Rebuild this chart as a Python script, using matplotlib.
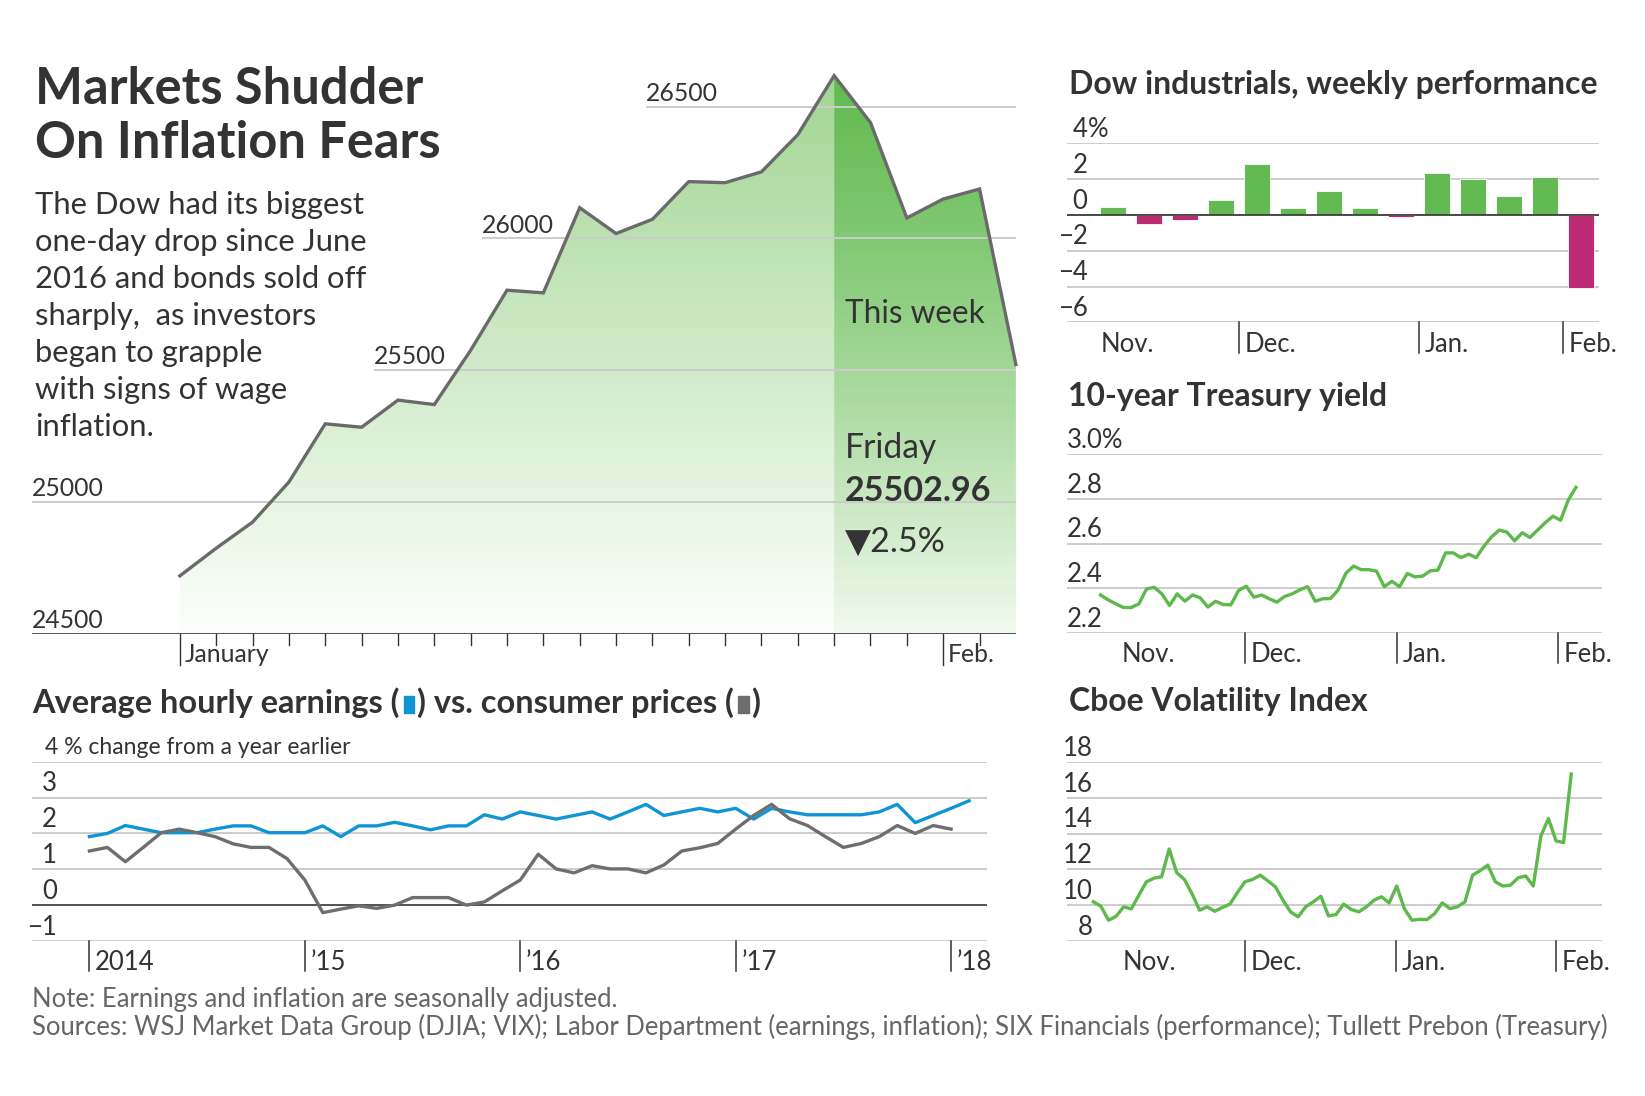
import numpy as np
import matplotlib
matplotlib.use("Agg")
import matplotlib.pyplot as plt
import matplotlib.transforms as mtransforms
from matplotlib import font_manager
from matplotlib.patches import Polygon, Rectangle

# ---------------- data ----------------
# Dow daily close, Dec 29 2017 .. Feb 2 2018
dow_close = [24719, 24824, 24923, 25075, 25296, 25283, 25386, 25369, 25575,
             25803, 25793, 26116, 26018, 26072, 26215, 26211, 26252, 26393,
             26617, 26439, 26077, 26149, 26187, 25521]
dow_levels = [24500, 25000, 25500, 26000, 26500]
dow_month_labels = ["January", "Feb."]

# weekly % change, Dow industrials
weekly_perf = [0.45, -0.50, -0.28, 0.84, 2.86, 0.39, 1.33, 0.41, -0.13,
               2.34, 2.02, 1.05, 2.09, -4.10]
perf_levels = [4, 2, 0, -2, -4, -6]
perf_labels = ["4", "2", "0", "\u22122", "\u22124", "\u22126"]

# 10-year Treasury yield, daily
treasury = [2.370, 2.348, 2.330, 2.314, 2.314, 2.330, 2.397, 2.404, 2.375, 2.323,
            2.375, 2.342, 2.370, 2.357, 2.316, 2.342, 2.327, 2.326, 2.390, 2.409,
            2.360, 2.370, 2.353, 2.338, 2.363, 2.375, 2.393, 2.407, 2.342, 2.353,
            2.354, 2.393, 2.467, 2.499, 2.483, 2.483, 2.476, 2.407, 2.431, 2.407,
            2.466, 2.451, 2.454, 2.478, 2.481, 2.558, 2.558, 2.537, 2.552, 2.537,
            2.588, 2.630, 2.660, 2.651, 2.612, 2.648, 2.627, 2.660, 2.693, 2.722,
            2.704, 2.794, 2.851]
treasury_levels = [3.0, 2.8, 2.6, 2.4, 2.2]
treasury_labels = ["3.0%", "2.8", "2.6", "2.4", "2.2"]

# Cboe volatility index, daily
vix = [10.19, 9.94, 9.16, 9.38, 9.91, 9.79, 10.56, 11.31, 11.51, 11.59,
       13.14, 11.81, 11.44, 10.65, 9.72, 9.91, 9.66, 9.87, 10.06, 10.71,
       11.31, 11.44, 11.68, 11.36, 11.03, 10.28, 9.63, 9.35, 9.91, 10.19,
       10.50, 9.40, 9.48, 10.06, 9.76, 9.63, 9.91, 10.28, 10.47, 10.13,
       11.07, 9.81, 9.16, 9.21, 9.20, 9.53, 10.13, 9.81, 9.91, 10.19,
       11.68, 11.93, 12.24, 11.31, 11.07, 11.12, 11.53, 11.63, 11.07, 13.87,
       14.84, 13.59, 13.50, 17.33]
vix_levels = [18, 16, 14, 12, 10, 8]

# monthly % change from a year earlier
earnings = [1.91, 2.00, 2.22, 2.12, 2.02, 2.02, 2.02, 2.12, 2.21, 2.21,
            2.02, 2.02, 2.02, 2.21, 1.91, 2.21, 2.21, 2.31, 2.21, 2.10,
            2.21, 2.21, 2.52, 2.40, 2.60, 2.50, 2.40, 2.50, 2.60, 2.40,
            2.60, 2.81, 2.50, 2.60, 2.70, 2.60, 2.70, 2.40, 2.70, 2.60,
            2.52, 2.52, 2.52, 2.52, 2.60, 2.81, 2.30, 2.50, 2.70, 2.91]
cpi = [1.51, 1.61, 1.21, 1.61, 2.02, 2.12, 2.02, 1.91, 1.71, 1.61,
       1.61, 1.30, 0.70, -0.21, -0.11, -0.02, -0.09, 0.00, 0.21, 0.21,
       0.21, 0.00, 0.09, 0.40, 0.70, 1.42, 1.01, 0.90, 1.10, 1.01,
       1.01, 0.90, 1.12, 1.51, 1.60, 1.72, 2.12, 2.50, 2.81, 2.41,
       2.22, 1.91, 1.61, 1.72, 1.91, 2.22, 2.00, 2.22, 2.12]
earn_levels = [3, 2, 1, 0, -1]
earn_labels = ["3", "2", "1", "0", "\u22121"]
year_labels = ["2014", "\u201915", "\u201916", "\u201917", "\u201918"]
month_labels = ["Nov.", "Dec.", "Jan.", "Feb."]

# ---------------- style / layout ----------------
W, H = 1645, 1096
DARK = "#333333"
GRID = "#cccccc"
GREEN = "#5db94b"
BAR_GREEN = "#63ba52"
BAR_RED = "#bc2a74"
BLUE = "#0f94d6"
GRAY = "#6e6e6e"
NOTE = "#666666"

# where the month boundaries fall on each index axis
dow_month_pos = [0, 21]
dow_week_start = 18
dow_grid_start = [None, None, 5.35, 8.30, 12.83]
perf_month_pos = [-0.33, 3.5, 8.5, 12.5]
treasury_month_pos = [2.8, 18.8, 38.7, 59.7]
vix_month_pos = [3.8, 20.0, 39.9, 61.0]
year_pos = [0, 12, 24, 36, 48]


def pick_font(names):
    for n in names:
        try:
            font_manager.findfont(font_manager.FontProperties(family=n),
                                  fallback_to_default=False)
            return n
        except ValueError:
            continue
    return "DejaVu Sans"


FONT = [pick_font(["Lato", "Liberation Sans", "Noto Sans"]), "DejaVu Sans"]
plt.rcParams["font.family"] = FONT

fig = plt.figure(figsize=(W / 100, H / 100), dpi=100)
fig.patch.set_facecolor("white")
renderer = fig.canvas.get_renderer()


def fx(px):
    return px / W


def fy(py):
    return 1 - py / H


def fit_size(s, target_px, weight="normal"):
    t = fig.text(0, 0, s, fontsize=20, fontweight=weight)
    w = t.get_window_extent(renderer).width
    t.remove()
    return 20 * target_px / w


TITLE_SIZE = fit_size("On Inflation Fears", 406, "bold")
BODY_SIZE = fit_size("one-day drop since June", 333)
PANEL_SIZE = fit_size("Dow industrials, weekly performance", 529, "bold")
EARN_SIZE = fit_size("Average hourly earnings () vs. consumer prices ()", 729 - 36, "bold")
NOTE_TEXT = ("Sources: WSJ Market Data Group (DJIA; VIX); Labor Department (earnings, inflation); "
             "SIX Financials (performance); Tullett Prebon (Treasury)")
NOTE_SIZE = fit_size(NOTE_TEXT, 1581)
MAIN_TICK = 17.8
SMALL_TICK = 18.5


def clean(ax):
    for s in ax.spines.values():
        s.set_visible(False)
    ax.set_xticks([])
    ax.set_yticks([])
    ax.patch.set_alpha(0)


def hgrid(ax, levels, dark=()):
    for v in levels:
        col, lw = (DARK, 1.2) if v in dark else (GRID, 1.4)
        ax.axhline(v, color=col, lw=lw, zorder=2)


def ylabels(ax, levels, labels, xfrac, ha, size=SMALL_TICK):
    tr = mtransforms.blended_transform_factory(ax.transAxes, ax.transData)
    for v, lab in zip(levels, labels):
        ax.annotate(lab, xy=(xfrac, v), xycoords=tr, xytext=(0, 4.5),
                    textcoords="offset points", ha=ha, va="baseline",
                    fontsize=size, color=DARK)


def xlabels(ax, positions, labels, tick_first=False, tick_len=0.17,
            size=SMALL_TICK, dy=-21.2):
    tr = mtransforms.blended_transform_factory(ax.transData, ax.transAxes)
    for i, (p, lab) in enumerate(zip(positions, labels)):
        off = 0
        if i > 0 or tick_first:
            ax.plot([p, p], [0, -tick_len], transform=tr, color=DARK, lw=1.1,
                    clip_on=False)
            off = 4
        ax.annotate(lab, xy=(p, 0), xycoords=tr, xytext=(off, dy),
                    textcoords="offset points", ha="left", va="baseline",
                    fontsize=size, color=DARK)


def gradient_fill(ax, xs, ys, top, bottom, y0, y1, power=1.0):
    t = np.linspace(0, 1, 256) ** power
    img = np.zeros((256, 1, 3))
    for k in range(3):
        img[:, 0, k] = top[k] + (bottom[k] - top[k]) * t
    im = ax.imshow(img, extent=(xs[0], xs[-1], y0, y1), aspect="auto",
                   origin="upper", zorder=1, interpolation="bilinear")
    verts = [(xs[0], y0)] + list(zip(xs, ys)) + [(xs[-1], y0)]
    poly = Polygon(verts, closed=True, facecolor="none", edgecolor="none")
    ax.add_patch(poly)
    im.set_clip_path(poly)


# ---------------- main Dow chart ----------------
ax = fig.add_axes([fx(31.9), fy(633.6), (1015.9 - 31.9) / W, (633.6 - 53.8) / H])
clean(ax)
xd = np.arange(len(dow_close))
yd = np.array(dow_close, dtype=float)
ws = dow_week_start
gradient_fill(ax, xd[:ws + 1], yd[:ws + 1], (0.62, 0.83, 0.56), (0.99, 1.0, 0.99),
              24500, 26700)
gradient_fill(ax, xd[ws:], yd[ws:], (0.38, 0.73, 0.31), (0.95, 0.98, 0.94),
              24500, 26700, power=1.3)
xmin = -4.07
for lev, st in zip(dow_levels, dow_grid_start):
    if lev == dow_levels[0]:
        continue
    ax.hlines(lev, xmin if st is None else st, xd[-1], color=GRID, lw=1.4, zorder=2)
ax.hlines(dow_levels[0], xmin, xd[-1], color=DARK, lw=1.2, zorder=4)
ax.plot(xd, yd, color="#6a6a6a", lw=2.4, zorder=3, clip_on=False,
        solid_joinstyle="miter")
ax.set_xlim(xmin, xd[-1])
ax.set_ylim(24500, 26700)
for lev, st in zip(dow_levels, dow_grid_start):
    ax.annotate(f"{lev}", xy=(xmin if st is None else st, lev), xytext=(0, 4),
                textcoords="offset points", ha="left", va="baseline",
                fontsize=MAIN_TICK, color=DARK)
tr = mtransforms.blended_transform_factory(ax.transData, ax.transAxes)
for i in xd[:-1]:
    ln = 0.054 if i in dow_month_pos else 0.02
    ax.plot([i, i], [0, -ln], transform=tr, color=DARK, lw=1.0, clip_on=False)
for p, lab in zip(dow_month_pos, dow_month_labels):
    ax.annotate(lab, xy=(p, 0), xycoords=tr, xytext=(3.6, -20.5),
                textcoords="offset points", ha="left", va="baseline",
                fontsize=MAIN_TICK, color=DARK)

# headline and text block
fig.text(fx(35), fy(103.6), "Markets Shudder", fontsize=TITLE_SIZE,
         fontweight="bold", color=DARK, va="baseline")
fig.text(fx(35), fy(157.9), "On Inflation Fears", fontsize=TITLE_SIZE,
         fontweight="bold", color=DARK, va="baseline")
body = ["The Dow had its biggest", "one-day drop since June",
        "2016 and bonds sold off", "sharply,  as investors",
        "began to grapple", "with signs of wage", "inflation."]
for k, line in enumerate(body):
    fig.text(fx(35), fy(213.8 + 37.1 * k), line, fontsize=BODY_SIZE,
             color=DARK, va="baseline")

fig.text(fx(845), fy(322.5), "This week", fontsize=fit_size("This week", 140),
         color=DARK, va="baseline")
fig.text(fx(845), fy(457.6), "Friday", fontsize=fit_size("Friday", 92.5),
         color=DARK, va="baseline")
fig.text(fx(845), fy(500.8), "25502.96",
         fontsize=fit_size("25502.96", 146.7, "bold"), fontweight="bold",
         color=DARK, va="baseline")
fig.text(fx(845), fy(552.1), "\u25BC2.5%", fontsize=fit_size("\u25BC2.5%", 100.8),
         color=DARK, va="baseline")

# ---------------- weekly performance bars ----------------
ax = fig.add_axes([fx(1066.8), fy(322.3), 531.9 / W, 179 / H])
clean(ax)
hgrid(ax, perf_levels)
xb = np.arange(len(weekly_perf))
cols = [BAR_GREEN if v >= 0 else BAR_RED for v in weekly_perf]
ax.bar(xb, weekly_perf, width=0.73, color=cols, edgecolor="white", lw=0.6, zorder=3)
ax.axhline(0, color=DARK, lw=1.2, zorder=4)
ax.set_xlim(-1.275, 13.5)
ax.set_ylim(-6, 4)
ylabels(ax, perf_levels, perf_labels, 0.039, "right")
trb = mtransforms.blended_transform_factory(ax.transAxes, ax.transData)
ax.annotate("%", xy=(0.039, 4), xycoords=trb, xytext=(0, 4.5),
            textcoords="offset points", ha="left", va="baseline",
            fontsize=SMALL_TICK, color=DARK)
xlabels(ax, perf_month_pos, month_labels)
fig.text(fx(1068.6), fy(94.3), "Dow industrials, weekly performance",
         fontsize=PANEL_SIZE, fontweight="bold", color=DARK, va="baseline")

# ---------------- 10-year Treasury ----------------
ax = fig.add_axes([fx(1066.8), fy(633), 535.2 / W, 179 / H])
clean(ax)
hgrid(ax, treasury_levels)
ax.plot(np.arange(len(treasury)), treasury, color=GREEN, lw=2.4, zorder=3,
        clip_on=False)
ax.set_xlim(-4.4, 65.4)
ax.set_ylim(2.2, 3.0)
ylabels(ax, treasury_levels, treasury_labels, 0.0, "left")
xlabels(ax, treasury_month_pos, month_labels)
fig.text(fx(1067.9), fy(405.7), "10-year Treasury yield",
         fontsize=PANEL_SIZE, fontweight="bold", color=DARK, va="baseline")

# ---------------- VIX ----------------
ax = fig.add_axes([fx(1066.8), fy(941), 535.5 / W, 179 / H])
clean(ax)
hgrid(ax, vix_levels)
ax.plot(np.arange(len(vix)), vix, color=GREEN, lw=2.4, zorder=3, clip_on=False)
ax.set_xlim(-3.5, 67.1)
ax.set_ylim(8, 18)
ylabels(ax, vix_levels, [str(v) for v in vix_levels], 0.049, "right")
xlabels(ax, vix_month_pos, month_labels)
fig.text(fx(1068.6), fy(710.7), "Cboe Volatility Index",
         fontsize=PANEL_SIZE, fontweight="bold", color=DARK, va="baseline")

# ---------------- earnings vs prices ----------------
ax = fig.add_axes([fx(32), fy(941), 955 / W, 179.3 / H])
clean(ax)
hgrid(ax, [4] + earn_levels, dark=(0,))
ax.plot(np.arange(len(earnings)), earnings, color=BLUE, lw=2.4, zorder=3)
ax.plot(np.arange(len(cpi)), cpi, color=GRAY, lw=2.4, zorder=4)
ax.set_xlim(-3.2, 50.0)
ax.set_ylim(-1, 4)
ylabels(ax, earn_levels, earn_labels, 0.026, "right")
sub = "4 % change from a year earlier"
fig.text(fx(44.6), fy(754), sub, fontsize=fit_size(sub, 305), color=DARK,
         va="baseline")
xlabels(ax, year_pos, year_labels, tick_first=True)

# title with coloured keys
x = 32.2
ybase = fy(713.3)
pieces = ["Average hourly earnings (", BLUE, ") vs. consumer prices (", GRAY, ")"]
for piece in pieces:
    if piece.startswith("#"):
        x += 4
        fig.add_artist(Rectangle((fx(x), ybase), 10.5 / W, 17.5 / H,
                                 transform=fig.transFigure, color=piece))
        x += 10.5 + 3
    else:
        t = fig.text(fx(x), ybase, piece, fontsize=EARN_SIZE, fontweight="bold",
                     color=DARK, va="baseline")
        x = t.get_window_extent(renderer).x1

# ---------------- footnotes ----------------
fig.text(fx(31.5), fy(1006.5), "Note: Earnings and inflation are seasonally adjusted.",
         fontsize=NOTE_SIZE, color=NOTE, va="baseline")
fig.text(fx(31.5), fy(1035), NOTE_TEXT, fontsize=NOTE_SIZE, color=NOTE,
         va="baseline")

fig.savefig("out.png", dpi=100, facecolor="white")
